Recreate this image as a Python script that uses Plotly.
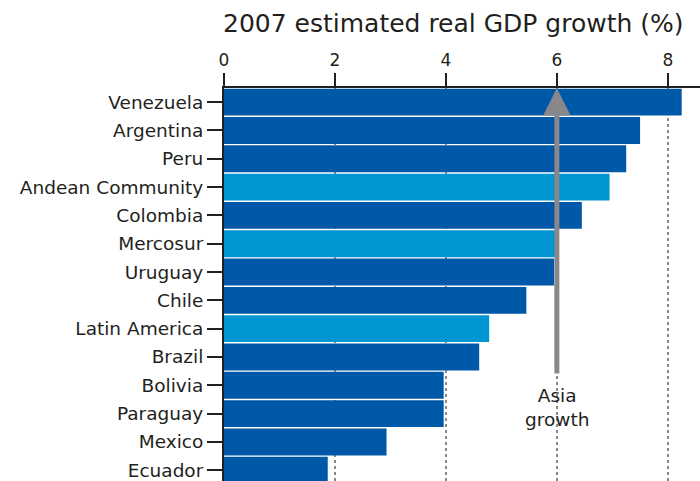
import plotly.graph_objects as go

categories = ["Venezuela", "Argentina", "Peru", "Andean Community", "Colombia",
              "Mercosur", "Uruguay", "Chile", "Latin America", "Brazil",
              "Bolivia", "Paraguay", "Mexico", "Ecuador"]
growth = [8.25, 7.5, 7.25, 6.95, 6.45, 5.97, 5.95, 5.45, 4.78, 4.6,
          3.96, 3.96, 2.93, 1.87]
kind = ["country", "country", "country", "aggregate", "country",
        "aggregate", "country", "country", "aggregate", "country",
        "country", "country", "country", "country"]
x_ticks = [0, 2, 4, 6, 8]
asia_growth = 6.0
title_text = "2007 estimated real GDP growth (%)"
asia_label = "Asia<br>growth"

DARK = "#0059a8"
LIGHT = "#0096d4"
TXT = "#231f20"
GREY = "#87878c"
FONT = "DejaVu Sans"

colors = [LIGHT if k == "aggregate" else DARK for k in kind]

fig = go.Figure()
fig.add_trace(go.Bar(
    x=growth, y=categories, orientation="h",
    marker=dict(color=colors, line=dict(width=0)),
    hoverinfo="x+y",
))

fig.update_layout(
    width=700, height=481,
    margin=dict(l=224, r=0, t=88, b=0, autoexpand=False),
    paper_bgcolor="white", plot_bgcolor="white",
    bargap=0.05,
    showlegend=False,
    font=dict(family=FONT, color=TXT),
)

fig.update_xaxes(
    side="top", range=[0, 8.58], automargin=False,
    tickvals=x_ticks, ticktext=[str(t) for t in x_ticks],
    ticks="outside", ticklen=13, tickwidth=2, tickcolor=TXT,
    tickfont=dict(family=FONT, size=17, color=TXT),
    showline=True, linecolor=TXT, linewidth=2,
    showgrid=True, gridcolor="#8a8a8a", gridwidth=2, griddash="dot",
    zeroline=False,
)
fig.update_yaxes(
    categoryorder="array", categoryarray=categories,
    range=[13.38, -0.5], automargin=False,
    ticks="outside", ticklen=15, tickwidth=2, tickcolor=TXT,
    tickfont=dict(family=FONT, size=18.5, color=TXT),
    showline=True, linecolor=TXT, linewidth=2,
    showgrid=False, zeroline=False,
)

# title
fig.add_annotation(
    text=title_text, xref="paper", yref="paper",
    x=0.483, y=1, yshift=65, showarrow=False,
    xanchor="center", yanchor="middle",
    font=dict(family=FONT, size=25, color=TXT),
)

# Asia growth arrow
fig.add_annotation(
    x=asia_growth, y=1, xref="x", yref="paper",
    ax=0, ay=287, axref="pixel", ayref="pixel",
    showarrow=True, arrowhead=2, arrowsize=1.1, arrowwidth=5,
    arrowcolor=GREY, text="",
)
fig.add_annotation(
    x=asia_growth, y=1, xref="x", yref="paper",
    yshift=-319, showarrow=False,
    text=asia_label, xanchor="center", yanchor="middle", align="center",
    font=dict(family=FONT, size=18.5, color=TXT),
)

fig.write_html(
    "out.html",
    config={"displayModeBar": False},
    post_script="document.body.style.margin='0';document.body.style.overflow='hidden';",
)
